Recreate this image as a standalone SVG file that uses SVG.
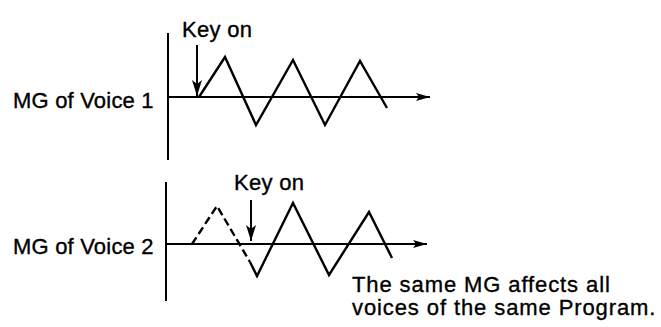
<svg xmlns="http://www.w3.org/2000/svg" width="661" height="327" viewBox="0 0 661 327">
<style>
.t{font-family:"Liberation Sans",Arial,sans-serif;font-size:22px;fill:#000;stroke:#000;stroke-width:0.35;letter-spacing:0.2px}
.k{letter-spacing:0.3px}
.n{letter-spacing:0.9px}
.ax{stroke:#000;stroke-width:2;fill:none}
.w{stroke:#000;stroke-width:2.4;fill:none;stroke-linejoin:miter}
.d{stroke-dasharray:8 4}
</style>
<defs>
<marker id="ah" viewBox="0 0 14 8" refX="14" refY="4" markerWidth="14" markerHeight="8" markerUnits="userSpaceOnUse" orient="auto">
<path d="M0,0 L14,4 L0,8 L3,4 Z" fill="#000"/>
</marker>
<marker id="kh" viewBox="0 0 10 16" refX="5" refY="16" markerWidth="10" markerHeight="16" markerUnits="userSpaceOnUse" orient="0">
<path d="M0,0 L5,16 L10,0 L5,4 Z" fill="#000"/>
</marker>
</defs>
<rect width="661" height="327" fill="#fff"/>
<g id="connectors">
<line class="ax" x1="168" y1="33" x2="168" y2="160"/>
<line class="ax" x1="168" y1="97" x2="430" y2="97" marker-end="url(#ah)"/>
<line class="ax" x1="166" y1="182" x2="166" y2="301"/>
<line class="ax" x1="166" y1="244" x2="427" y2="244" marker-end="url(#ah)"/>
<line class="ax" x1="197" y1="45" x2="197" y2="96" marker-end="url(#kh)"/>
<line class="ax" x1="251" y1="200" x2="251" y2="241" marker-end="url(#kh)"/>
</g>
<g id="wave1">
<polyline class="w" points="199,97 225,57 256,125 293,60 325,125 360,61 387,108"/>
</g>
<g id="wave2">
<polyline class="w d" points="192,244 217,206 250,262"/>
<polyline class="w" points="250,262 257,276 293,203 329,275 369,212 392,258"/>
</g>
<g id="labels">
<text class="t" x="13" y="108">MG of Voice 1</text>
<text class="t" x="13" y="254">MG of Voice 2</text>
<text class="t k" x="182" y="37">Key on</text>
<text class="t k" x="234" y="190">Key on</text>
<text class="t n" x="352" y="292">The same MG affects all</text>
<text class="t n" x="352" y="315">voices of the same Program.</text>
</g>
</svg>
